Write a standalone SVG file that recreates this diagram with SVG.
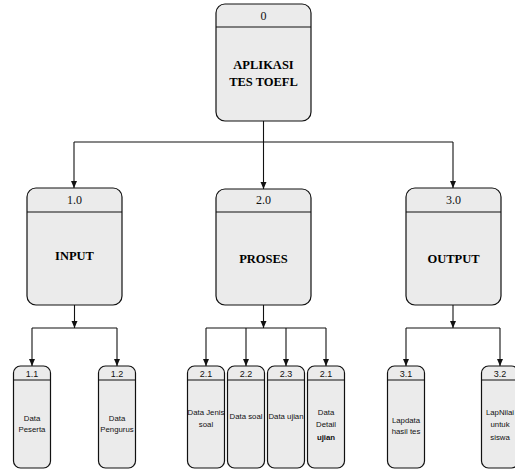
<svg xmlns="http://www.w3.org/2000/svg" width="515" height="469" viewBox="0 0 515 469">
<style>
.box{fill:#ebebeb;stroke:#111;stroke-width:1.2}
.div{stroke:#111;stroke-width:1.2}
.c{fill:none;stroke:#111;stroke-width:1.1}
.hd{font-family:"Liberation Serif",serif;font-size:12px;text-anchor:middle;fill:#111}
.tt{font-family:"Liberation Serif",serif;font-size:12.5px;font-weight:bold;text-anchor:middle;fill:#000}
.sh{font-family:"Liberation Sans",sans-serif;font-size:9px;text-anchor:middle;fill:#111}
.sb{font-family:"Liberation Sans",sans-serif;font-size:7.8px;text-anchor:middle;fill:#111}
</style>
<defs>
<marker id="ar" markerWidth="8" markerHeight="8" refX="7" refY="4" orient="auto" markerUnits="userSpaceOnUse">
<path d="M0,1 L7,4 L0,7 Z" fill="#111"/>
</marker>
</defs>
<g id="connectors">
<path class="c" d="M263.5,121 V189" marker-end="url(#ar)"/>
<path class="c" d="M74,142 H453"/>
<path class="c" d="M74,142 V188" marker-end="url(#ar)"/>
<path class="c" d="M453,142 V188" marker-end="url(#ar)"/>
<path class="c" d="M74.5,305 V328" marker-end="url(#ar)"/>
<path class="c" d="M32,328 H117"/>
<path class="c" d="M32,328 V366" marker-end="url(#ar)"/>
<path class="c" d="M117,328 V366" marker-end="url(#ar)"/>
<path class="c" d="M263.5,305 V328" marker-end="url(#ar)"/>
<path class="c" d="M206,328 H326"/>
<path class="c" d="M206,328 V366" marker-end="url(#ar)"/>
<path class="c" d="M246,328 V366" marker-end="url(#ar)"/>
<path class="c" d="M286,328 V366" marker-end="url(#ar)"/>
<path class="c" d="M326,328 V366" marker-end="url(#ar)"/>
<path class="c" d="M453,305 V328" marker-end="url(#ar)"/>
<path class="c" d="M406,328 H500"/>
<path class="c" d="M406,328 V366" marker-end="url(#ar)"/>
<path class="c" d="M500,328 V366" marker-end="url(#ar)"/>
</g>
<g id="n0">
<rect class="box" x="216" y="4" width="95" height="117" rx="9"/>
<line class="div" x1="216" y1="27" x2="311" y2="27"/>
<text class="hd" x="263.5" y="20">0</text>
<text class="tt" x="263.5" y="68.5">APLIKASI</text>
<text class="tt" x="263.5" y="86">TES TOEFL</text>
</g>
<g id="n1">
<rect class="box" x="27" y="188" width="95" height="117" rx="9"/>
<line class="div" x1="27" y1="212" x2="122" y2="212"/>
<text class="hd" x="74.5" y="204">1.0</text>
<text class="tt" x="74.5" y="260">INPUT</text>
</g>
<g id="n2">
<rect class="box" x="216" y="189" width="95" height="116" rx="9"/>
<line class="div" x1="216" y1="212" x2="311" y2="212"/>
<text class="hd" x="263.5" y="204">2.0</text>
<text class="tt" x="263.5" y="263">PROSES</text>
</g>
<g id="n3">
<rect class="box" x="406" y="188" width="95" height="117" rx="9"/>
<line class="div" x1="406" y1="212" x2="501" y2="212"/>
<text class="hd" x="453.5" y="204">3.0</text>
<text class="tt" x="453.5" y="263">OUTPUT</text>
</g>
<g id="n11">
<rect class="box" x="13.5" y="366" width="37" height="102" rx="7"/>
<line class="div" x1="13.5" y1="380" x2="50.5" y2="380"/>
<text class="sh" x="32" y="376.5">1.1</text>
<text class="sb" x="32" y="421">Data</text>
<text class="sb" x="32" y="432">Peserta</text>
</g>
<g id="n12">
<rect class="box" x="98.5" y="366" width="37" height="102" rx="7"/>
<line class="div" x1="98.5" y1="380" x2="135.5" y2="380"/>
<text class="sh" x="117" y="376.5">1.2</text>
<text class="sb" x="117" y="421">Data</text>
<text class="sb" x="117" y="432">Pengurus</text>
</g>
<g id="n21">
<rect class="box" x="187.5" y="366" width="37" height="102" rx="7"/>
<line class="div" x1="187.5" y1="380" x2="224.5" y2="380"/>
<text class="sh" x="206" y="376.5">2.1</text>
<text class="sb" x="206" y="415">Data Jenis</text>
<text class="sb" x="206" y="427">soal</text>
</g>
<g id="n22">
<rect class="box" x="227.5" y="366" width="37" height="102" rx="7"/>
<line class="div" x1="227.5" y1="380" x2="264.5" y2="380"/>
<text class="sh" x="246" y="376.5">2.2</text>
<text class="sb" x="246" y="419">Data soal</text>
</g>
<g id="n23">
<rect class="box" x="267.5" y="366" width="37" height="102" rx="7"/>
<line class="div" x1="267.5" y1="380" x2="304.5" y2="380"/>
<text class="sh" x="286" y="376.5">2.3</text>
<text class="sb" x="286" y="419">Data ujian</text>
</g>
<g id="n24">
<rect class="box" x="307.5" y="366" width="37" height="102" rx="7"/>
<line class="div" x1="307.5" y1="380" x2="344.5" y2="380"/>
<text class="sh" x="326" y="376.5">2.1</text>
<text class="sb" x="326" y="415">Data</text>
<text class="sb" x="326" y="427">Detail</text>
<text class="sb" x="326" y="440" font-weight="bold">ujian</text>
</g>
<g id="n31">
<rect class="box" x="387.5" y="366" width="37" height="102" rx="7"/>
<line class="div" x1="387.5" y1="380" x2="424.5" y2="380"/>
<text class="sh" x="406" y="376.5">3.1</text>
<text class="sb" x="406" y="423">Lapdata</text>
<text class="sb" x="406" y="434">hasil tes</text>
</g>
<g id="n32">
<rect class="box" x="481.5" y="366" width="37" height="102" rx="7"/>
<line class="div" x1="481.5" y1="380" x2="518.5" y2="380"/>
<text class="sh" x="500" y="376.5">3.2</text>
<text class="sb" x="500" y="415">LapNilai</text>
<text class="sb" x="500" y="427">untuk</text>
<text class="sb" x="500" y="440">siswa</text>
</g>
</svg>
